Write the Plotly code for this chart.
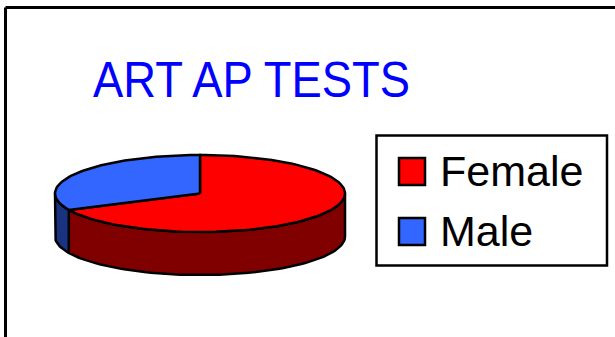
import math
import plotly.graph_objects as go

# Data
categories = ["Female", "Male"]
values = [68, 32]
top_colors = ["#FF0000", "#3366FF"]
side_colors = ["#800000", "#1A3380"]
title_text = "ART AP TESTS"

W, H = 615, 337

# Geometry of the tilted pie (pixel units on a 1:1 axis)
CX, CY = 200.0, 193.5
RX, RY = 145.0, 38.5
DEPTH = 43.0
START = -90.0  # 12 o'clock, slices run clockwise
OUTLINE = dict(color="black", width=2.5)


def arc(t0, t1, dy=0.0, n=None):
    if n is None:
        n = max(4, int(abs(t1 - t0) / 2) + 2)
    pts = []
    for i in range(n + 1):
        t = math.radians(t0 + (t1 - t0) * i / n)
        pts.append((CX + RX * math.cos(t), CY + RY * math.sin(t) + dy))
    return pts


total = sum(values)
angles = []
a = START
for v in values:
    span = 360.0 * v / total
    angles.append((a, a + span))
    a += span

fig = go.Figure()

# Visible side walls (front half of the rim: 0..180 deg, and 360..540 for wrap)
for (t0, t1), col in zip(angles, side_colors):
    for lo, hi in ((0.0, 180.0), (360.0, 540.0)):
        s, e = max(t0, lo), min(t1, hi)
        if e - s <= 0.01:
            continue
        top = arc(s, e)
        bot = arc(e, s, dy=DEPTH)
        pts = top + bot + [top[0]]
        fig.add_trace(go.Scatter(
            x=[p[0] for p in pts], y=[p[1] for p in pts],
            mode="lines", fill="toself", fillcolor=col,
            line=OUTLINE, hoverinfo="skip", showlegend=False,
        ))

# Top faces of the slices
for (t0, t1), col, name, v in zip(angles, top_colors, categories, values):
    pts = [(CX, CY)] + arc(t0, t1) + [(CX, CY)]
    fig.add_trace(go.Scatter(
        x=[p[0] for p in pts], y=[p[1] for p in pts],
        mode="lines", fill="toself", fillcolor=col,
        line=OUTLINE, name=name, hovertemplate=f"{name}: {v}<extra></extra>",
        showlegend=False,
    ))

shapes = [
    # chart frame (runs off the right and bottom edges)
    dict(type="line", x0=5.5, x1=W + 5, y0=7.5, y1=7.5, line=dict(color="black", width=3)),
    dict(type="line", x0=5.5, x1=5.5, y0=7.5, y1=H + 5, line=dict(color="black", width=3)),
    # legend box
    dict(type="rect", x0=376.5, x1=607, y0=135.5, y1=265.5,
         line=dict(color="black", width=2.5), fillcolor="white", layer="below"),
]
annotations = [
    dict(text=title_text, x=91, y=80, xref="x", yref="y", xanchor="left", yanchor="middle",
         align="left", showarrow=False,
         font=dict(family="Liberation Sans, Arial", size=50, color="#0000FF")),
]

# Legend entries
LEG_Y0 = 158.0
LEG_STEP = 60.0
for i, (name, col) in enumerate(zip(categories, top_colors)):
    y0 = LEG_Y0 + i * LEG_STEP
    shapes.append(dict(type="rect", x0=399, x1=425, y0=y0, y1=y0 + 27,
                       line=dict(color="black", width=2.5), fillcolor=col))
    annotations.append(dict(text=name, x=438, y=y0 + 13, xref="x", yref="y",
                            xanchor="left", yanchor="middle", showarrow=False,
                            font=dict(family="Liberation Sans, Arial", size=43, color="black")))

fig.update_layout(
    width=W, height=H, autosize=False,
    margin=dict(l=0, r=0, t=0, b=0),
    paper_bgcolor="white", plot_bgcolor="white",
    xaxis=dict(range=[0, W], visible=False, fixedrange=True),
    yaxis=dict(range=[H, 0], visible=False, fixedrange=True),
    shapes=shapes, annotations=annotations,
    showlegend=False,
)

# Condensed title lettering: squeeze the title glyphs to a narrow width
condense_title = """
document.querySelectorAll('.annotation-text').forEach(function (t) {
  if (t.textContent === %r) {
    t.setAttribute('textLength', '317');
    t.setAttribute('lengthAdjust', 'spacingAndGlyphs');
  }
});
""" % title_text

fig.write_html("out.html", post_script=condense_title)
